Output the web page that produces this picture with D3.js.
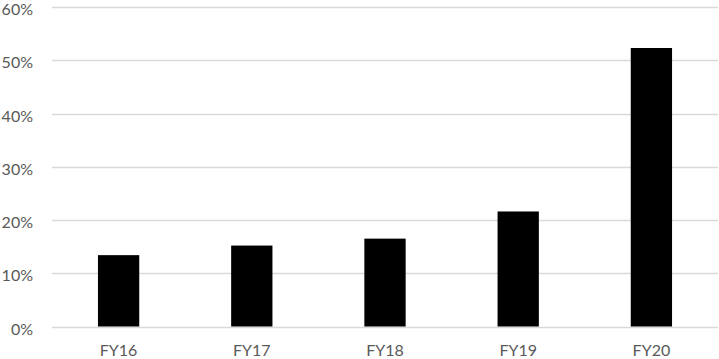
<!DOCTYPE html>
<html><head><meta charset="utf-8">
<script src="https://cdn.jsdelivr.net/npm/d3@7"></script>
<style>body{margin:0;background:#fff}svg{display:block}</style>
</head><body>
<svg id="c" width="719" height="359"></svg>
<script>
const categories = ["FY16","FY17","FY18","FY19","FY20"];
const values = [13.4, 15.2, 16.5, 21.6, 52.3];
const yTicks = [0,10,20,30,40,50,60];

(function(){
const svg = d3.select("#c");
const mLeft = 52, mRight = 718, mTop = 7, mBottom = 326.5;
const x = d3.scaleBand().domain(categories).range([mLeft,mRight]).paddingInner(0.69).paddingOuter(0.345);
const y = d3.scaleLinear().domain([0,60]).range([mBottom,mTop]);
const font = "Lato, 'Open Sans', sans-serif";

svg.append("g").selectAll("line").data(yTicks).join("line")
  .attr("x1",mLeft).attr("x2",mRight)
  .attr("y1",d=>Math.round(y(d))+0.5).attr("y2",d=>Math.round(y(d))+0.5)
  .attr("stroke","#d9d9d9").attr("stroke-width",1.3);

svg.append("g").selectAll("text").data(yTicks).join("text")
  .attr("x",33).attr("y",d=>y(d)).attr("dy","0.5em")
  .attr("text-anchor","end").attr("fill","#595959")
  .style("font-family",font).style("font-size","16px")
  .text(d=>d+"%");

svg.append("g").selectAll("rect").data(values).join("rect")
  .attr("x",(d,i)=>x(categories[i])).attr("width",x.bandwidth())
  .attr("y",d=>y(d)).attr("height",d=>y(0)-y(d))
  .attr("fill","#000");

svg.append("g").selectAll("text").data(categories).join("text")
  .attr("x",d=>x(d)+x.bandwidth()/2).attr("y",355.5)
  .attr("text-anchor","middle").attr("fill","#595959")
  .style("font-family",font).style("font-size","16px")
  .text(d=>d);
})();
</script>
</body></html>
